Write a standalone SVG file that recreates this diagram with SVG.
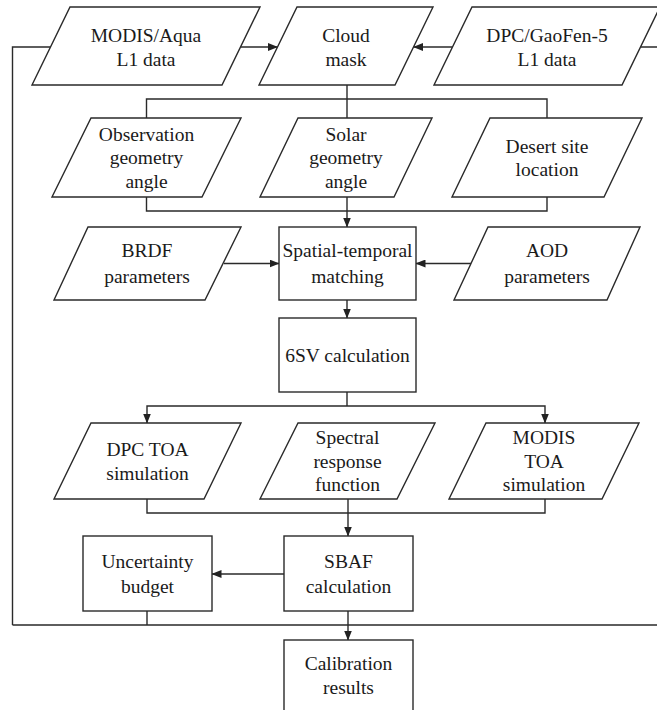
<svg xmlns="http://www.w3.org/2000/svg" width="657" height="710" viewBox="0 0 657 710">
<defs>
<marker id="ah" markerWidth="10" markerHeight="8" refX="9.5" refY="4" orient="auto" markerUnits="userSpaceOnUse">
<path d="M0,0 L10,4 L0,8 Z" fill="#222"/>
</marker>
<style>
.s{fill:#fff;stroke:#2a2a2a;stroke-width:1.4}
.c{fill:none;stroke:#2a2a2a;stroke-width:1.4}
.a{fill:none;stroke:#2a2a2a;stroke-width:1.4;marker-end:url(#ah)}
text{font-family:"Liberation Serif","Times New Roman",serif;font-size:19.5px;fill:#1a1a1a;text-anchor:middle}
</style>
</defs>
<rect width="657" height="710" fill="#fff"/>
<g id="connectors">
<path class="c" d="M147,611 V625 M12.5,625 H670 M12.5,625 V47 H50.5 M640.5,47 H670 V625"/>
<path class="a" d="M240.5,47 H277.5"/>
<path class="a" d="M452.5,47 H413.5"/>
<path class="c" d="M347,85 V99 M146.5,118 V99 H547 V118 M347,99 V118"/>
<path class="c" d="M146.5,197 V211 H547 V197"/>
<path class="a" d="M347,197 V227"/>
<path class="a" d="M224,263.5 H279"/>
<path class="a" d="M471,263.5 H416"/>
<path class="a" d="M347,300 V318"/>
<path class="c" d="M347,392 V406"/>
<path class="a" d="M347,406 H147 V423"/>
<path class="a" d="M347,406 H545 V423"/>
<path class="c" d="M147,499 V513 H545 V499"/>
<path class="a" d="M348,499 V536"/>
<path class="a" d="M284,574 H212"/>
<path class="a" d="M348,611 V640"/>
</g>
<g id="modis-l1"><polygon class="s" points="70,7 260,7 222,85 32,85"/><text x="146" y="41.5">MODIS/Aqua</text><text x="146" y="65.5">L1 data</text></g>
<g id="cloud-mask"><polygon class="s" points="297,7 433,7 395,85 259,85"/><text x="346" y="41.5">Cloud</text><text x="346" y="65.5">mask</text></g>
<g id="dpc-l1"><polygon class="s" points="472,7 660,7 622,85 434,85"/><text x="547" y="41.5">DPC/GaoFen-5</text><text x="547" y="65.5">L1 data</text></g>
<g id="observation"><polygon class="s" points="91,118 241,118 202,197 52,197"/><text x="146.5" y="140.5">Observation</text><text x="146.5" y="164">geometry</text><text x="146.5" y="187.5">angle</text></g>
<g id="solar"><polygon class="s" points="298,118 432,118 394,197 260,197"/><text x="346" y="140.5">Solar</text><text x="346" y="164">geometry</text><text x="346" y="187.5">angle</text></g>
<g id="desert"><polygon class="s" points="490,118 642,118 604,197 452,197"/><text x="547" y="152.5">Desert site</text><text x="547" y="176">location</text></g>
<g id="brdf"><polygon class="s" points="88,227 241,227 205,300 54,300"/><text x="147" y="257">BRDF</text><text x="147" y="283">parameters</text></g>
<g id="spatial"><rect class="s" x="279" y="227" width="137" height="73"/><text x="347.5" y="257">Spatial-temporal</text><text x="347.5" y="283">matching</text></g>
<g id="aod"><polygon class="s" points="488,227 640,227 607,300 454,300"/><text x="547" y="257">AOD</text><text x="547" y="283">parameters</text></g>
<g id="sixsv"><rect class="s" x="279" y="318" width="137" height="74"/><text x="347.5" y="361.5">6SV calculation</text></g>
<g id="dpc-toa"><polygon class="s" points="91,423 241,423 204,499 54,499"/><text x="147.5" y="456">DPC TOA</text><text x="147.5" y="479.5">simulation</text></g>
<g id="srf"><polygon class="s" points="298,423 435,423 397,499 260,499"/><text x="347.5" y="444">Spectral</text><text x="347.5" y="467.5">response</text><text x="347.5" y="491">function</text></g>
<g id="modis-toa"><polygon class="s" points="486,423 639,423 602,499 449,499"/><text x="544" y="444">MODIS</text><text x="544" y="467.5">TOA</text><text x="544" y="491">simulation</text></g>
<g id="uncertainty"><rect class="s" x="83" y="536" width="129" height="75"/><text x="147.5" y="567.5">Uncertainty</text><text x="147.5" y="592.5">budget</text></g>
<g id="sbaf"><rect class="s" x="284" y="536" width="129" height="75"/><text x="348.5" y="567.5">SBAF</text><text x="348.5" y="592.5">calculation</text></g>
<g id="calibration"><rect class="s" x="284" y="640" width="129" height="74"/><text x="348.5" y="670">Calibration</text><text x="348.5" y="694">results</text></g>
</svg>
